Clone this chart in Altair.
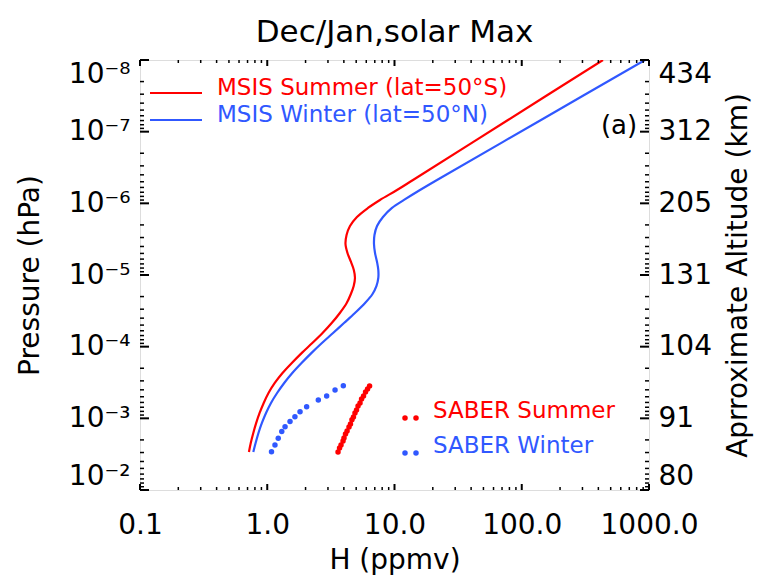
import altair as alt
import pandas as pd

RED = "#ff0000"
BLUE = "#3058ff"
FONT = "DejaVu Sans"
W, H = 509, 430

title_text = "Dec/Jan,solar Max"
series_names = ["MSIS Summer (lat=50°S)", "MSIS Winter (lat=50°N)", "SABER Summer", "SABER Winter"]
panel_label = "(a)"
x_title = "H (ppmv)"
y_title = "Pressure (hPa)"
y2_title = "Aprroximate Altitude (km)"
x_tick_values = [0.1, 1.0, 10.0, 100.0, 1000.0]
y_tick_values = [1e-8, 1e-7, 1e-6, 1e-5, 1e-4, 1e-3, 1e-2]
altitude_labels = ["434", "312", "205", "131", "104", "91", "80"]

# MSIS profiles: shared pressure levels (hPa)
msis_p = [1e-8, 6.87e-8, 4.72e-7, 6.52e-7, 8.97e-7, 1.16e-6, 1.55e-6, 2.07e-6, 2.77e-6, 3.69e-6,
          4.93e-6, 6.58e-6, 8.51e-6, 1.10e-5, 1.42e-5, 1.84e-5, 2.46e-5, 3.39e-5, 4.68e-5, 6.44e-5,
          8.89e-5, 1.22e-4, 1.69e-4, 2.33e-4, 3.21e-4, 4.43e-4, 6.10e-4, 8.42e-4, 1.16e-3, 1.60e-3,
          2.21e-3, 2.95e-3]
# MSIS summer (lat=50S), H in ppmv
msis_summer_h = [435.0, 77.96, 13.98, 10.46, 7.69, 6.19, 5.07, 4.47, 4.20, 4.12,
                 4.27, 4.55, 4.79, 4.89, 4.78, 4.54, 4.21, 3.72, 3.21, 2.72,
                 2.26, 1.87, 1.56, 1.318, 1.146, 1.023, 0.938, 0.871, 0.819, 0.777,
                 0.742, 0.718]
# MSIS winter (lat=50N), H in ppmv
msis_winter_h = [930.0, 141.7, 21.58, 15.86, 11.88, 9.56, 8.12, 7.29, 6.96, 6.90,
                 7.03, 7.29, 7.46, 7.46, 7.22, 6.72, 5.87, 4.89, 4.01, 3.29,
                 2.69, 2.23, 1.86, 1.573, 1.359, 1.195, 1.070, 0.978, 0.908, 0.853,
                 0.810, 0.777]

# SABER summer (red dots)
saber_summer_p = [2.95e-3, 2.60e-3, 2.36e-3, 2.07e-3, 1.88e-3, 1.65e-3, 1.50e-3, 1.32e-3, 1.20e-3, 1.05e-3,
                  9.58e-4, 8.42e-4, 7.64e-4, 6.72e-4, 6.10e-4, 5.37e-4, 4.88e-4, 4.28e-4, 3.89e-4, 3.54e-4]
saber_summer_h = [3.60, 3.70, 3.80, 3.94, 4.01, 4.12, 4.24, 4.39, 4.51, 4.63,
                  4.76, 4.89, 5.03, 5.17, 5.36, 5.51, 5.71, 5.92, 6.14, 6.37]

# SABER winter (blue dots)
saber_winter_p = [2.92e-3, 2.36e-3, 1.90e-3, 1.53e-3, 1.31e-3, 1.11e-3, 9.48e-4, 8.07e-4, 6.88e-4,
                  5.55e-4, 4.88e-4, 4.02e-4, 3.50e-4]
saber_winter_h = [1.08, 1.15, 1.22, 1.30, 1.38, 1.51, 1.65, 1.81, 2.04,
                  2.52, 2.93, 3.41, 3.96]

msis = pd.concat([
    pd.DataFrame({"h": msis_summer_h, "p": msis_p, "series": series_names[0], "i": range(len(msis_p))}),
    pd.DataFrame({"h": msis_winter_h, "p": msis_p, "series": series_names[1], "i": range(len(msis_p))}),
])
saber = pd.concat([
    pd.DataFrame({"h": saber_summer_h, "p": saber_summer_p, "series": series_names[2]}),
    pd.DataFrame({"h": saber_winter_h, "p": saber_winter_p, "series": series_names[3]}),
])

x_minor_ticks = [m * 10.0 ** e for e in range(-1, 3) for m in range(2, 10)]
y_minor_ticks = [m * 10.0 ** e for e in range(-8, -2) for m in range(2, 10)]

xscale = alt.Scale(type="log", domain=[0.1, 1000], nice=False)
yscale = alt.Scale(type="log", domain=[1e-8, 1e-2], reverse=True, nice=False)
cscale = alt.Scale(domain=series_names, range=[RED, BLUE, RED, BLUE])

sup_expr = ("'10⁻' + substring('⁰¹²³⁴⁵⁶⁷⁸⁹', -round(log(datum.value)/LN10), "
            "1 - round(log(datum.value)/LN10))")
alt_expr = "[" + ",".join("'%s'" % a for a in altitude_labels) + "][round(log(datum.value)/LN10) + 8]"

common_axis = dict(ticks=False, tickSize=0, domain=False, grid=False, labelFont=FONT,
                   labelFontSize=28, labelColor="black", titleFont=FONT, titleFontSize=28,
                   titleFontWeight="normal", titleColor="black")

left_axis = alt.Axis(orient="left", values=y_tick_values, labelExpr=sup_expr, labelPadding=10,
                     labelFlush=True, title=y_title, titleX=-110, titleY=H / 2, titleAngle=270,
                     titleAlign="center", titleBaseline="middle", **common_axis)
right_axis = alt.Axis(orient="right", values=y_tick_values, labelExpr=alt_expr, labelPadding=9,
                      labelFlush=True, title=y2_title, titleX=89, titleY=H / 2, titleAngle=270,
                      titleAlign="center", titleBaseline="middle", **common_axis)
bottom_axis = alt.Axis(orient="bottom", values=x_tick_values, labelExpr="format(datum.value, '.1f')",
                       labelPadding=21, labelFlush=False, title=x_title, titleX=W / 2, titleY=70,
                       titleAlign="center", titleBaseline="middle", **common_axis)

ymaj = pd.DataFrame({"v": y_tick_values})
ymin = pd.DataFrame({"v": y_minor_ticks})
xmaj = pd.DataFrame({"v": x_tick_values})
xmin = pd.DataFrame({"v": x_minor_ticks})

def yrule(df, x1, x2, axis=None, sw=2):
    return alt.Chart(df).mark_rule(color="black", strokeWidth=sw).encode(
        y=alt.Y("v:Q", scale=yscale, axis=axis), x=alt.value(x1), x2=alt.value(x2))

def xrule(df, y1, y2, axis=None, sw=2):
    return alt.Chart(df).mark_rule(color="black", strokeWidth=sw).encode(
        x=alt.X("v:Q", scale=xscale, axis=axis), y=alt.value(y1), y2=alt.value(y2))

ticks = [
    yrule(ymaj, 0, 9, left_axis),
    yrule(ymin, 0, 4, sw=1.5),
    yrule(ymaj, W, W - 9, right_axis),
    yrule(ymin, W, W - 4, sw=1.5),
    xrule(xmaj, H, H - 6, bottom_axis),
    xrule(xmin, H, H - 3, sw=1.5),
    xrule(xmaj, 0, 6),
    xrule(xmin, 0, 3, sw=1.5),
]

lines = alt.Chart(msis).mark_line(strokeWidth=2.2, interpolate="catmull-rom", clip=True).encode(
    x=alt.X("h:Q", scale=xscale, axis=None),
    y=alt.Y("p:Q", scale=yscale, axis=None),
    color=alt.Color("series:N", scale=cscale, legend=None),
    detail="series:N",
    order="i:Q",
)
dots = alt.Chart(saber).mark_circle(size=30, opacity=1, clip=True).encode(
    x=alt.X("h:Q", scale=xscale, axis=None),
    y=alt.Y("p:Q", scale=yscale, axis=None),
    color=alt.Color("series:N", scale=cscale, legend=None),
)

def label_layer(text, x, y, color, size, align="left"):
    return alt.Chart(pd.DataFrame({"t": [text]})).mark_text(
        font=FONT, fontSize=size, color=color, align=align, baseline="middle").encode(
        text="t:N", x=alt.value(x), y=alt.value(y))

def legend_rule(text, x1, x2, y, color):
    return alt.Chart(pd.DataFrame({"t": [text]})).mark_rule(color=color, strokeWidth=2.2).encode(
        x=alt.value(x1), x2=alt.value(x2), y=alt.value(y))

def legend_dot(text, x, y, color):
    return alt.Chart(pd.DataFrame({"t": [text]})).mark_circle(size=30, opacity=1, color=color).encode(
        x=alt.value(x), y=alt.value(y))

legend = [
    legend_rule(series_names[0], 10, 62, 33, RED),
    legend_rule(series_names[1], 10, 62, 60, BLUE),
    label_layer(series_names[0], 77, 27.5, RED, 23),
    label_layer(series_names[1], 77, 54.5, BLUE, 23),
    legend_dot(series_names[2], 265, 358, RED),
    legend_dot(series_names[2], 276, 358, RED),
    legend_dot(series_names[3], 265, 393, BLUE),
    legend_dot(series_names[3], 276, 393, BLUE),
    label_layer(series_names[2], 293, 351, RED, 23),
    label_layer(series_names[3], 293, 386, BLUE, 23),
    label_layer(panel_label, 479, 66, "black", 26, align="center"),
]

chart = alt.layer(lines, dots, *ticks, *legend).resolve_axis(
    x="independent", y="independent"
).properties(
    width=W, height=H,
    title=alt.TitleParams(title_text, font=FONT, fontSize=31, fontWeight="normal",
                          anchor="middle", offset=10, color="black"),
    autosize=alt.AutoSizeParams(type="none"),
    padding={"left": 140, "top": 60, "right": 109, "bottom": 87},
).configure_view(stroke="black", strokeWidth=2.5).configure(background="white")

chart.save("out.html", embed_options={"renderer": "svg", "actions": False})
